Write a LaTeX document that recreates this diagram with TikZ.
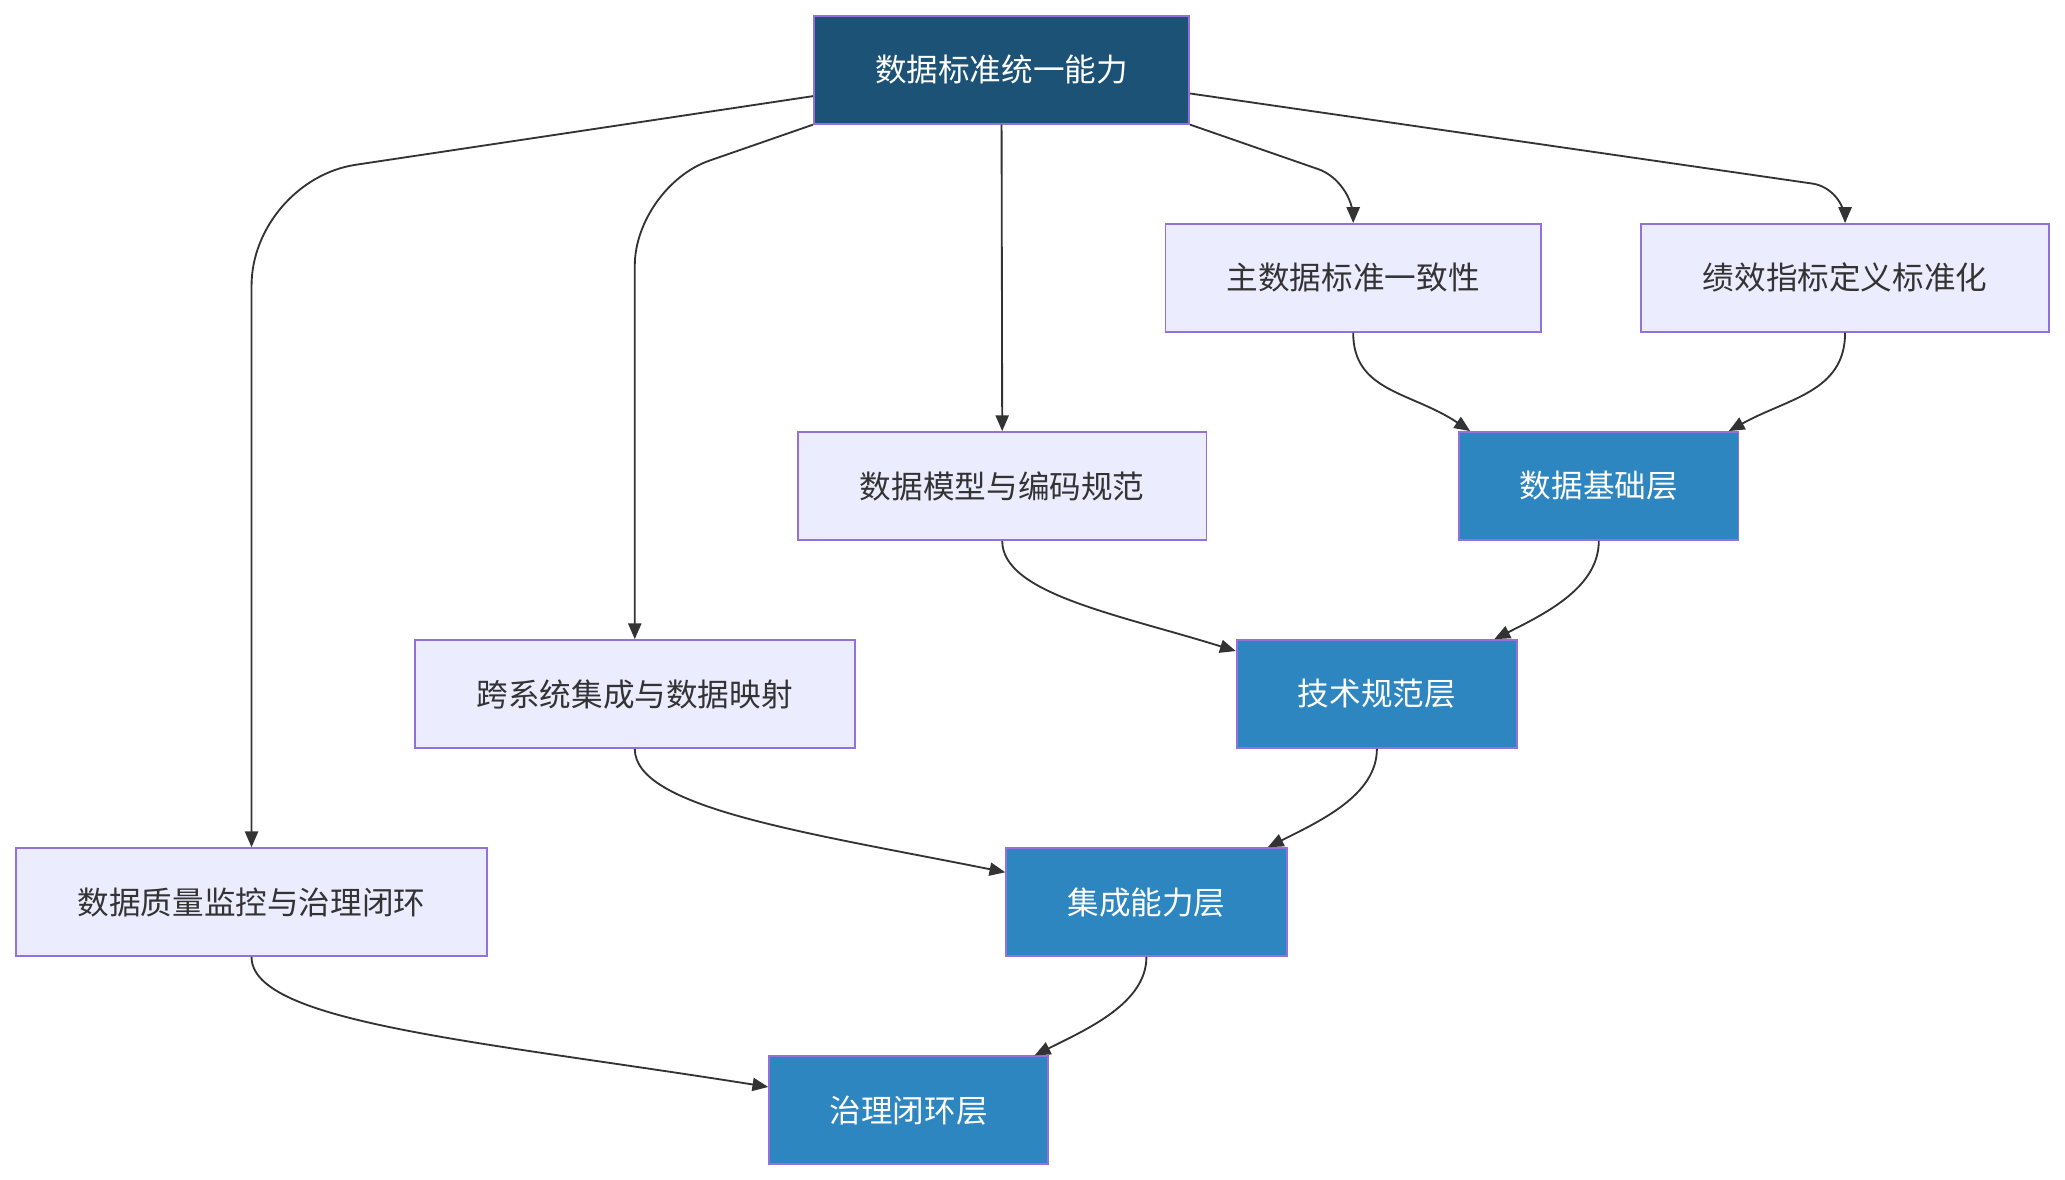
\documentclass[tikz,border=0pt]{standalone}
\usepackage{fontspec}
\setmainfont{Noto Sans CJK SC}
\usetikzlibrary{arrows.meta,positioning,calc}
\definecolor{ink}{HTML}{333333}
\definecolor{navy}{HTML}{1B5276}
\definecolor{layerblue}{HTML}{2E86C1}
\definecolor{paperlilac}{HTML}{ECECFF}
\definecolor{edgepurple}{HTML}{9370DB}
\tikzset{box/.style={draw=edgepurple,line width=1.3pt,fill=paperlilac,text=ink,minimum height=82pt,inner sep=0pt,font=\fontsize{24}{29}\selectfont},root/.style={box,fill=navy,text=white},layer/.style={box,fill=layerblue,text=white},flow/.style={-{Triangle[length=12pt,width=10pt]},line width=1.4pt,draw=ink}}

\begin{document}
\begin{tikzpicture}[x=1pt,y=-1pt]
\useasboundingbox (0,0) rectangle (1568,896);
\node[root,minimum width=285pt] (top) at (760.5,53) {数据标准统一能力};
\node[box,minimum width=285pt] (mdm) at (1027.5,211) {主数据标准一致性};
\node[box,minimum width=310pt] (kpi) at (1401,211) {绩效指标定义标准化};
\node[box,minimum width=310pt] (model) at (761,369) {数据模型与编码规范};
\node[layer,minimum width=212pt] (found) at (1214,369) {数据基础层};
\node[box,minimum width=334pt] (integ) at (482,527) {跨系统集成与数据映射};
\node[layer,minimum width=213pt] (tech) at (1045.5,527) {技术规范层};
\node[box,minimum width=358pt] (qual) at (191,685) {数据质量监控与治理闭环};
\node[layer,minimum width=213pt] (intlayer) at (870.5,685) {集成能力层};
\node[layer,minimum width=212pt] (gov) at (690,843) {治理闭环层};
% from the top node
\draw[flow,rounded corners=80pt] ([yshift=-20pt]top.west) -- ($(qual.north |- top.west)+(0,84)$) -- (qual.north);
\draw[flow,rounded corners=60pt] (top.south west) -- ($(integ.north |- top.south)+(0,47)$) -- (integ.north);
\draw[flow] (top.south) -- (model.north);
\draw[flow,rounded corners=28pt] (top.south east) -- ($(mdm.north |- top.south)+(0,43)$) -- (mdm.north);
\draw[flow,rounded corners=25pt] ([yshift=-18pt]top.east) -- ($(kpi.north |- top.east)+(0,90)$) -- (kpi.north);
% layers
\draw[flow] (mdm.south) .. controls +(0,45) and +(-45,-30) .. ([xshift=9pt]found.north west);
\draw[flow] (kpi.south) .. controls +(0,45) and +(45,-25) .. ([xshift=-8pt]found.north east);
\draw[flow] (model.south) .. controls +(0,40) and +(-90,-28) .. ([yshift=-9pt]tech.north west);
\draw[flow] (found.south) .. controls +(0,35) and +(40,-20) .. ([xshift=-18pt]tech.north east);
\draw[flow] (integ.south) .. controls +(0,45) and +(-150,-30) .. ([yshift=-19pt]intlayer.north west);
\draw[flow] (tech.south) .. controls +(0,35) and +(40,-20) .. ([xshift=-15pt]intlayer.north east);
\draw[flow] (qual.south) .. controls +(0,50) and +(-220,-35) .. ([yshift=-24pt]gov.north west);
\draw[flow] (intlayer.south) .. controls +(0,35) and +(40,-20) .. ([xshift=-11pt]gov.north east);
\end{tikzpicture}
\end{document}
